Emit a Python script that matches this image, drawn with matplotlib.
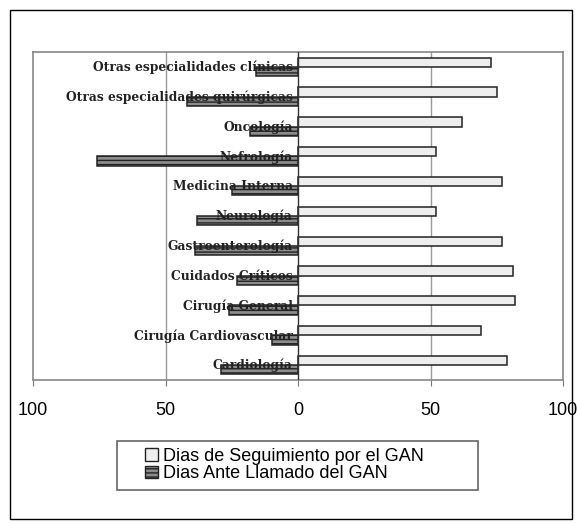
import matplotlib
matplotlib.use("Agg")
import matplotlib.pyplot as plt
import numpy as np
from matplotlib.patches import Rectangle, Patch
from matplotlib.ticker import FuncFormatter

categories = ["Otras especialidades clínicas", "Otras especialidades quirúrgicas",
              "Oncología", "Nefrología", "Medicina Interna", "Neurología",
              "Gastroenterología", "Cuidados Críticos", "Cirugía General",
              "Cirugía Cardiovascular", "Cardiología"]
seguimiento = [73, 75, 62, 52, 77, 52, 77, 81, 82, 69, 79]
ante_llamado = [16, 42, 18, 76, 25, 38, 39, 23, 26, 10, 29]
series_names = ["Dias de Seguimiento por el GAN", "Dias Ante Llamado del GAN"]
xticks = [-100, -50, 0, 50, 100]

fig = plt.figure(figsize=(5.77, 5.24), dpi=100)
fig.patches.append(Rectangle((10/577, 1-519/524), 562/577, 509/524, transform=fig.transFigure,
                             fill=False, edgecolor="black", linewidth=1.0))
ax = fig.add_axes([33/577, 1-380/524, (563-33)/577, (380-52)/524])

y = np.arange(len(categories))
h = 0.31
ax.barh(y - h/2, seguimiento, height=h, color="#eeeeee", edgecolor="#222222", linewidth=1.1, zorder=3)
ax.barh(y + h/2, [-v for v in ante_llamado], height=h, color="#8c8c8c", edgecolor="#222222",
        linewidth=1.1, hatch="----", zorder=3)

ax.set_ylim(len(categories) - 0.5, -0.5)
ax.set_xlim(-100, 100)
ax.set_xticks(xticks)
ax.xaxis.set_major_formatter(FuncFormatter(lambda v, p: f"{abs(v):.0f}"))
ax.tick_params(axis="x", labelsize=13, length=4, color="#777777", pad=12)
for lbl in ax.get_xticklabels():
    lbl.set_family("Liberation Sans")
ax.set_yticks([])
for x in (-50, 50):
    ax.axvline(x, color="#999999", linewidth=1.0, zorder=1)
ax.axvline(0, color="#333333", linewidth=1.0, zorder=4)
for s in ax.spines.values():
    s.set_color("#888888")
    s.set_linewidth(1.2)

for yi, name in zip(y, categories):
    ax.text(-2, yi + 0.02, name, ha="right", va="center", fontsize=8.8, fontweight="bold",
            family="DejaVu Serif", color="#222222", zorder=5)

# legend frame
fig.patches.append(Rectangle((117/577, 1-490/524), (478-117)/577, 49/524, transform=fig.transFigure,
                             fill=False, edgecolor="#666666", linewidth=1.2))
handles = [Patch(facecolor="#eeeeee", edgecolor="#222222", label=series_names[0]),
           Patch(facecolor="#8c8c8c", edgecolor="#222222", hatch="----", label=series_names[1])]
leg = fig.legend(handles=handles, loc="center left",
                 bbox_to_anchor=(145/577, 1-465/524),
                 prop={"family": "Liberation Sans", "size": 13},
                 frameon=False, handlelength=0.7, handleheight=0.7,
                 handletextpad=0.3, labelspacing=0.05, borderpad=0, borderaxespad=0)

fig.savefig("out.png", dpi=100)
